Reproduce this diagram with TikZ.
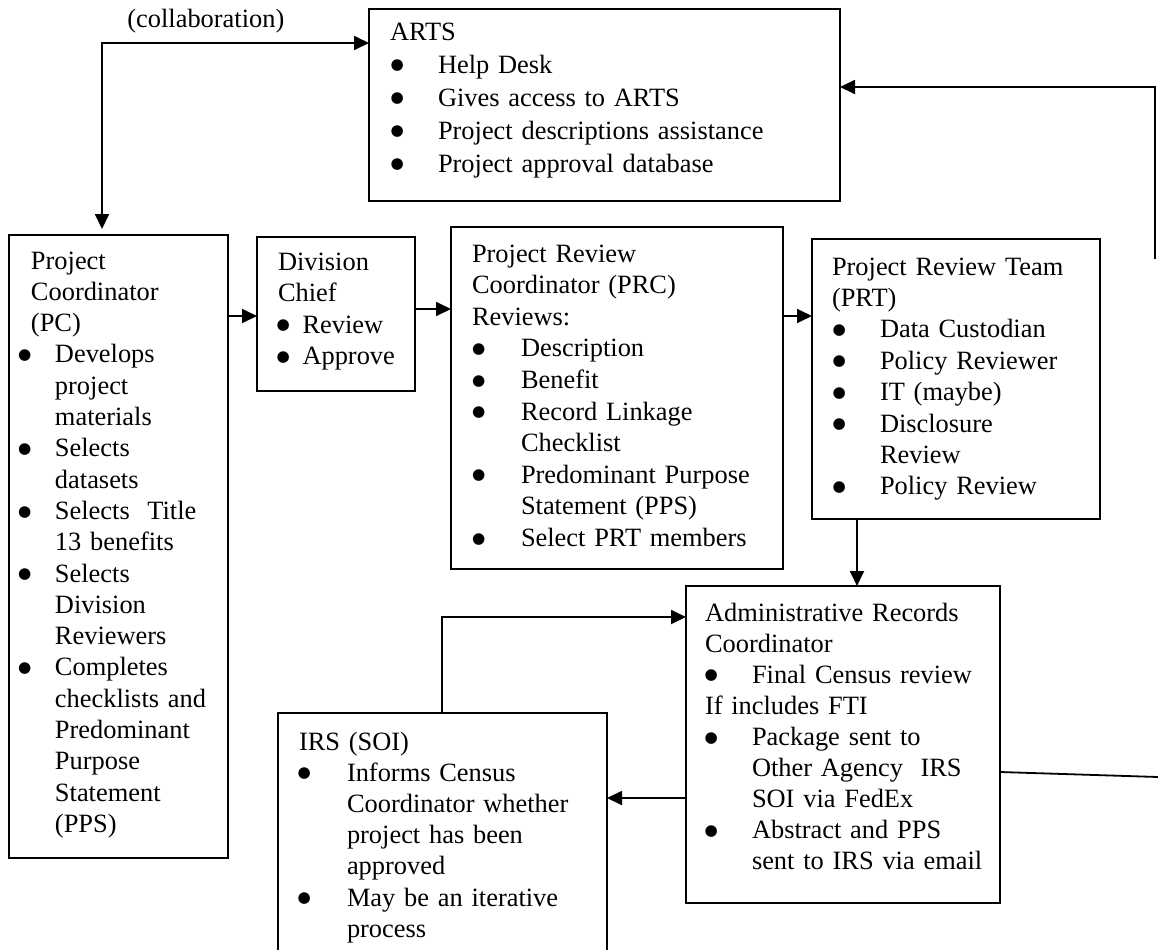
\documentclass[tikz,border=0pt]{standalone}
\usepackage{fontspec}
\setmainfont{Liberation Serif}
\newfontfamily\dotfont{DejaVu Sans}
\usetikzlibrary{arrows.meta}
\newcommand{\bigdot}{{\dotfont\fontsize{7.6pt}{7.6pt}\selectfont\raisebox{1.7pt}{●}}}
\newcommand{\ttl}[1]{\hspace*{\tx}#1}
\newcommand{\bul}[1]{\makebox[\ix][l]{\hspace*{\bx}\hspace*{-0.4pt}\bigdot}#1}
\newcommand{\cnt}[1]{\hspace*{\ix}#1}
\newcommand{\mkbox}[5]{\node[box, minimum width={(#4-#2)*0.5pt}, minimum height={(#5-#3)*0.5pt}] (#1) at (#2,#3) {};}
\tikzset{
  box/.style={draw, line width=0.9pt, inner sep=0pt, outer sep=0pt, anchor=north west},
  txt/.style={anchor=base west, inner sep=0pt, outer sep=0pt, align=left, text width=#1},
  tip/.tip={Triangle[length=7.5pt,width=7pt]},
  ln/.style={line width=0.9pt},
  arr/.style={line width=0.9pt, -tip}
}
\begin{document}
\begin{tikzpicture}[x=0.5pt,y=-0.5pt]
\fill[white] (0,0) rectangle (1158,949);
\useasboundingbox (0,0) rectangle (1158,949);

% boxes
\mkbox{arts}{369}{9}{840}{201}
\mkbox{pc}{9}{235}{228}{858}
\mkbox{dc}{257}{237}{415}{391}
\mkbox{prc}{451}{227}{783}{569}
\mkbox{prt}{812}{239}{1100}{519}
\mkbox{arc}{686}{586}{1000}{903}
\mkbox{irs}{278}{713}{607}{960}

% texts
\node[anchor=base west, inner sep=0pt, font=\fontsize{13.2pt}{15.6pt}\selectfont] (collab) at (127,27) {(collaboration)};

\node[txt=235pt, font=\fontsize{13.2pt}{16.5pt}\selectfont] (artsT) at (369,40) {%
\def\tx{10.5pt}\def\bx{11.2pt}\def\ix{34.5pt}%
\ttl{ARTS}\\
\bul{Help Desk}\\
\bul{Gives access to ARTS}\\
\bul{Project descriptions assistance}\\
\bul{Project approval database}};

\node[txt=109pt, font=\fontsize{13.2pt}{15.65pt}\selectfont] (pcT) at (9,269) {%
\def\tx{11pt}\def\bx{5pt}\def\ix{23pt}%
\ttl{Project}\\
\ttl{Coordinator}\\
\ttl{(PC)}\\
\bul{Develops}\\
\cnt{project}\\
\cnt{materials}\\
\bul{Selects}\\
\cnt{datasets}\\
\bul{Selects~~Title}\\
\cnt{13 benefits}\\
\bul{Selects}\\
\cnt{Division}\\
\cnt{Reviewers}\\
\bul{Completes}\\
\cnt{checklists and}\\
\cnt{Predominant}\\
\cnt{Purpose}\\
\cnt{Statement}\\
\cnt{(PPS)}};

\node[txt=79pt, font=\fontsize{13.2pt}{15.75pt}\selectfont] (dcT) at (257,270) {%
\def\tx{10.5pt}\def\bx{10.2pt}\def\ix{22.75pt}%
\ttl{Division}\\
\ttl{Chief}\\
\bul{Review}\\
\bul{Approve}};

\node[txt=166pt, font=\fontsize{13.2pt}{15.8pt}\selectfont] (prcT) at (451,262) {%
\def\tx{10.5pt}\def\bx{10.95pt}\def\ix{35pt}%
\ttl{Project Review}\\
\ttl{Coordinator (PRC)}\\
\ttl{Reviews:}\\
\bul{Description}\\
\bul{Benefit}\\
\bul{Record Linkage}\\
\cnt{Checklist}\\
\bul{Predominant Purpose}\\
\cnt{Statement (PPS)}\\
\bul{Select PRT members}};

\node[txt=144pt, font=\fontsize{13.2pt}{15.7pt}\selectfont] (prtT) at (812,275) {%
\def\tx{10pt}\def\bx{10.7pt}\def\ix{34pt}%
\ttl{Project Review Team}\\
\ttl{(PRT)}\\
\bul{Data Custodian}\\
\bul{Policy Reviewer}\\
\bul{IT (maybe)}\\
\bul{Disclosure}\\
\cnt{Review}\\
\bul{Policy Review}};

\node[txt=157pt, font=\fontsize{13.2pt}{15.55pt}\selectfont] (arcT) at (686,621) {%
\def\tx{9.5pt}\def\bx{9.7pt}\def\ix{33pt}%
\ttl{Administrative Records}\\
\ttl{Coordinator}\\
\bul{Final Census review}\\
\ttl{If includes FTI}\\
\bul{Package sent to}\\
\cnt{Other Agency~~IRS}\\
\cnt{SOI via FedEx}\\
\bul{Abstract and PPS}\\
\cnt{sent to IRS via email}};

\node[txt=164pt, font=\fontsize{13.2pt}{15.6pt}\selectfont] (irsT) at (278,750) {%
\def\tx{10.5pt}\def\bx{10.2pt}\def\ix{34.5pt}%
\ttl{IRS (SOI)}\\
\bul{Informs Census}\\
\cnt{Coordinator whether}\\
\cnt{project has been}\\
\cnt{approved}\\
\bul{May be an iterative}\\
\cnt{process}};

% helper coordinates
\coordinate (cc) at (102,43);
\coordinate (y316) at (0,316);
\coordinate (y309) at (0,309);
\coordinate (x857) at (857,0);
\coordinate (x442) at (442,0);
\coordinate (y617) at (0,617);
\coordinate (y798) at (0,798);
\coordinate (y772) at (0,772);
\coordinate (y87) at (0,87);
\coordinate (rEnd) at (1158,777);
\coordinate (rTop) at (1155,259);

% connectors
\draw[ln, tip-tip, shorten <=3pt] (pc.north -| cc) -- (cc) -- (arts.west |- cc);
\draw[arr] (pc.east |- y316) -- (dc.west |- y316);
\draw[arr] (dc.east |- y309) -- (prc.west |- y309);
\draw[arr] (prc.east |- y316) -- (prt.west |- y316);
\draw[arr] (prt.south -| x857) -- (arc.north -| x857);
\draw[arr] (irs.north -| x442) |- (arc.west |- y617);
\draw[arr] (arc.west |- y798) -- (irs.east |- y798);
\draw[ln] (arc.east |- y772) -- (rEnd);
\draw[arr] (rTop) |- (arts.east |- y87);
\end{tikzpicture}
\end{document}
